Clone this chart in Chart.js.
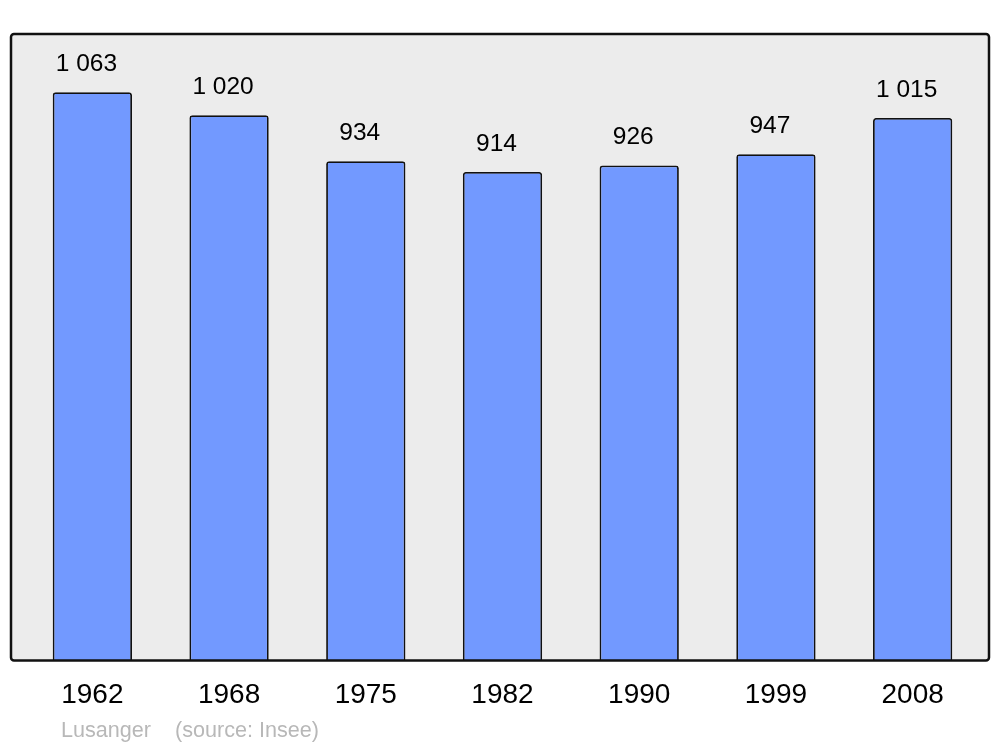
<!DOCTYPE html>
<html>
<head>
<meta charset="utf-8">
<script src="https://cdn.jsdelivr.net/npm/chart.js@4"></script>
<style>
  html, body { margin: 0; padding: 0; background: #fff; }
  #wrap { width: 1000px; height: 747px; }
</style>
</head>
<body>
<div id="wrap"><canvas id="graphic" width="1000" height="747"></canvas></div>
<script>
const years = ["1962", "1968", "1975", "1982", "1990", "1999", "2008"]
const population = [1063, 1020, 934, 914, 926, 947, 1015]
const valueLabels = ["1 063", "1 020", "934", "914", "926", "947", "1 015"]
const commune = "Lusanger"
const source = "(source: Insee)"

const fontFamily = "'Liberation Sans', Arial, sans-serif"

// grey panel behind the bars
const panelPlugin = {
  id: "panel",
  beforeDraw(chart) {
    const { ctx, chartArea } = chart
    const x = chartArea.left - 13
    const y = chartArea.top
    const w = chartArea.right + 8 - x
    const h = chartArea.bottom - y
    ctx.save()
    ctx.beginPath()
    ctx.roundRect(x, y, w, h, 3)
    ctx.fillStyle = "#ececec"
    ctx.fill()
    ctx.restore()
  },
  afterDatasetsDraw(chart) {
    const { ctx, chartArea } = chart
    const x = chartArea.left - 13
    const y = chartArea.top
    const w = chartArea.right + 8 - x
    const h = chartArea.bottom - y
    ctx.save()
    ctx.beginPath()
    ctx.roundRect(x, y, w, h, 3)
    ctx.lineWidth = 2.5
    ctx.strokeStyle = "#111"
    ctx.stroke()

    // values above bars
    ctx.font = "24.5px " + fontFamily
    ctx.fillStyle = "#000"
    ctx.textAlign = "center"
    ctx.textBaseline = "middle"
    chart.getDatasetMeta(0).data.forEach((bar, i) => {
      ctx.fillText(valueLabels[i], bar.x - 6, bar.y - 28)
    })

    // caption
    ctx.font = "21.6px " + fontFamily
    ctx.fillStyle = "#b8b8b8"
    ctx.textAlign = "left"
    ctx.textBaseline = "alphabetic"
    ctx.fillText(commune, 61, 737)
    ctx.fillText(source, 175, 737)
    ctx.restore()
  }
}

new Chart(document.querySelector("#graphic"), {
  type: "bar",
  data: {
    labels: years,
    datasets: [{
      data: population,
      backgroundColor: "#7299ff",
      borderColor: "#111",
      borderWidth: 1.8,
      borderRadius: { topLeft: 3, topRight: 3 },
      borderSkipped: "bottom",
      barPercentage: 0.58,
      categoryPercentage: 1
    }]
  },
  options: {
    responsive: false,
    animation: false,
    devicePixelRatio: 1,
    layout: { padding: { top: 34, left: 24, right: 19, bottom: 17 } },
    plugins: {
      legend: { display: false },
      tooltip: { enabled: false }
    },
    scales: {
      x: {
        grid: { display: false, drawTicks: false },
        border: { display: false },
        ticks: {
          color: "#000",
          padding: 18,
          font: { size: 28, family: fontFamily }
        }
      },
      y: {
        display: false,
        min: 0,
        max: 1172
      }
    }
  },
  plugins: [panelPlugin]
})
</script>
</body>
</html>
